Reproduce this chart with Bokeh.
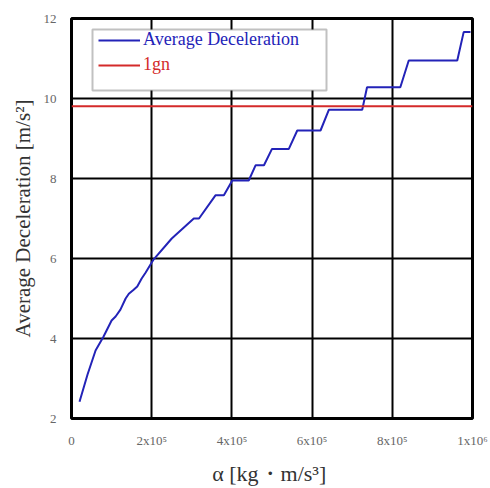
from bokeh.plotting import figure
from bokeh.models import (Legend, LegendItem, FixedTicker, BoxAnnotation)
from bokeh.embed import file_html
from bokeh.resources import INLINE

# data
alpha = [20e3, 40e3, 60e3, 80e3, 100e3, 110e3, 122e3, 135e3, 143e3, 155e3, 164e3,
         175e3, 185e3, 205e3, 250e3, 305e3, 318e3, 359e3, 380e3, 401e3, 442e3,
         459e3, 480e3, 500e3, 542e3, 563e3, 621e3, 642e3, 725e3, 737e3, 820e3,
         841e3, 962e3, 978e3, 995e3]
decel = [2.42, 3.1, 3.7, 4.05, 4.45, 4.55, 4.72, 5.0, 5.12, 5.22, 5.3,
         5.5, 5.65, 5.98, 6.5, 7.0, 7.0, 7.58, 7.58, 7.95, 7.95,
         8.33, 8.33, 8.74, 8.74, 9.2, 9.2, 9.72, 9.72, 10.28, 10.28,
         10.95, 10.95, 11.66, 11.66]
gn_x = [0, 1e6]
gn_y = [9.80665, 9.80665]

x_ticks = [0, 200000, 400000, 600000, 800000, 1000000]
x_tick_labels = ["0", "2x10⁵", "4x10⁵", "6x10⁵", "8x10⁵", "1x10⁶"]
y_ticks = [2, 4, 6, 8, 10, 12]

SERIF = "Liberation Serif"
BLUE = "#2323b8"
RED = "#d42a2a"

p = figure(width=490, height=488, output_backend="svg", toolbar_location=None,
           x_range=(0, 1e6), y_range=(2, 12),
           min_border_left=71, min_border_right=18, min_border_top=18, min_border_bottom=70)
p.background_fill_color = "white"
p.border_fill_color = "white"
p.outline_line_color = "black"
p.outline_line_width = 3

r_dec = p.line(alpha, decel, line_color=BLUE, line_width=2)
r_gn = p.line(gn_x, gn_y, line_color=RED, line_width=2)

p.xaxis.ticker = FixedTicker(ticks=x_ticks)
p.xaxis.major_label_overrides = {t: l for t, l in zip(x_ticks, x_tick_labels)}
p.yaxis.ticker = FixedTicker(ticks=y_ticks)

for ax in (p.xaxis, p.yaxis):
    ax.axis_line_color = None
    ax.major_tick_line_color = None
    ax.minor_tick_line_color = None
    ax.major_label_text_font = SERIF
    ax.major_label_text_font_size = "13px"
    ax.major_label_text_color = "#666666"
    ax.axis_label_text_font = SERIF
    ax.axis_label_text_font_style = "normal"
    ax.axis_label_text_color = "#333333"
p.xaxis.axis_label_text_font_size = "22px"
p.yaxis.axis_label_text_font_size = "21px"
p.xaxis.major_label_standoff = 8
p.yaxis.major_label_standoff = 9
p.xaxis.axis_label = "α  [kg・m/s³]"
p.yaxis.axis_label = "Average Deceleration [m/s²]"
p.xaxis.axis_label_standoff = 10
p.yaxis.axis_label_standoff = 6

p.grid.grid_line_color = "black"
p.grid.grid_line_width = 2
p.grid.grid_line_alpha = 1

box = BoxAnnotation(left=21, right=255, top=389, bottom=328,
                    left_units="screen", right_units="screen",
                    top_units="screen", bottom_units="screen",
                    fill_color="white", fill_alpha=1,
                    line_color="#333333", line_width=2)
p.add_layout(box)

def mk_legend(label, rend, color, loc):
    lg = Legend(items=[LegendItem(label=label, renderers=[rend])], location=loc,
                border_line_color=None, background_fill_alpha=0,
                label_text_font=SERIF, label_text_font_size="18px",
                label_text_color=color, glyph_width=42, label_standoff=3,
                padding=0, margin=0, label_height=20, glyph_height=20)
    return lg

p.add_layout(mk_legend("Average Deceleration", r_dec, BLUE, (27, 368)))
p.add_layout(mk_legend("1gn", r_gn, RED, (27, 343)))

open("out.html", "w").write(file_html(p, INLINE))
